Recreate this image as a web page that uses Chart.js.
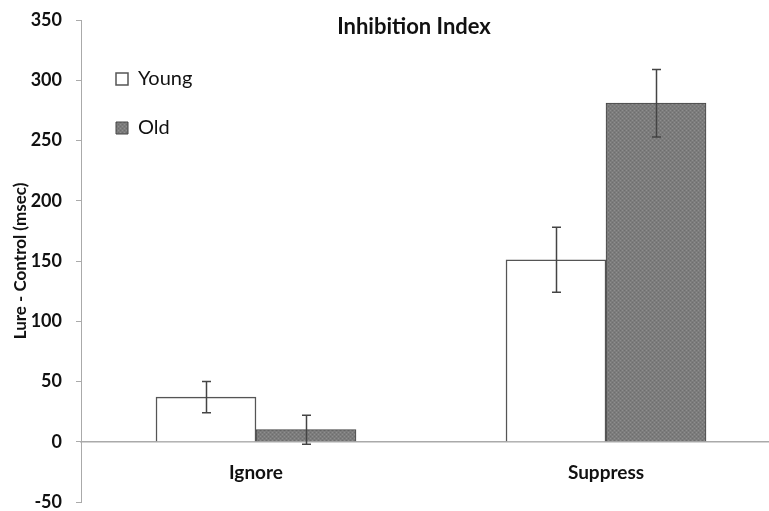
<!DOCTYPE html>
<html>
<head>
<meta charset="utf-8">
<script src="https://cdn.jsdelivr.net/npm/chart.js@4.4.0/dist/chart.umd.min.js"></script>
<style>
  html, body { margin: 0; padding: 0; background: #fff; overflow: hidden; }
  #wrap { width: 769px; height: 511px; }
</style>
</head>
<body>
<div id="wrap"><canvas id="chart" width="769" height="511"></canvas></div>
<script>
// values
const categories = ['Ignore', 'Suppress'];
const youngValues = [37, 151];
const youngErrors = [13, 27];
const oldValues = [10, 281];
const oldErrors = [12, 28];
const yTicks = [-50, 0, 50, 100, 150, 200, 250, 300, 350];

// dotted grey fill like the Excel pattern
function makePattern() {
    const c = document.createElement('canvas');
    c.width = 4;
    c.height = 4;
    const g = c.getContext('2d');
    g.fillStyle = '#7c7c7c';
    g.fillRect(0, 0, 4, 4);
    g.fillStyle = '#8e8e8e';
    g.fillRect(0, 0, 1, 1);
    g.fillRect(2, 2, 1, 1);
    g.fillStyle = '#6e6e6e';
    g.fillRect(2, 0, 1, 1);
    g.fillRect(0, 2, 1, 1);
    return g.createPattern(c, 'repeat');
}
const oldFill = makePattern();

const toPoints = (vals) => vals.map((v, i) => ({ x: i, y: v }));

const errorBars = {
    id: 'errorBars',
    afterDatasetsDraw(chart) {
        const ctx = chart.ctx;
        const yScale = chart.scales.y;
        const errs = [youngErrors, oldErrors];
        const vals = [youngValues, oldValues];
        ctx.save();
        ctx.strokeStyle = '#444444';
        ctx.lineWidth = 1.5;
        chart.data.datasets.forEach((ds, d) => {
            const meta = chart.getDatasetMeta(d);
            meta.data.forEach((bar, i) => {
                const x = Math.round(bar.x) + 0.5;
                const top = yScale.getPixelForValue(vals[d][i] + errs[d][i]);
                const bot = yScale.getPixelForValue(vals[d][i] - errs[d][i]);
                ctx.beginPath();
                ctx.moveTo(x, top);
                ctx.lineTo(x, bot);
                ctx.moveTo(x - 4.5, top);
                ctx.lineTo(x + 4.5, top);
                ctx.moveTo(x - 4.5, bot);
                ctx.lineTo(x + 4.5, bot);
                ctx.stroke();
            });
        });
        ctx.restore();
    }
};

const chartTitle = {
    id: 'chartTitle',
    afterLayout(chart) {
        // nudge the in-area legend to where Excel put it
        if (chart.legend) {
            chart.legend.left += 6;
            chart.legend.right += 6;
        }
    },
    afterDraw(chart) {
        const ctx = chart.ctx;
        ctx.save();
        ctx.font = 'bold 22px Lato';
        ctx.fillStyle = '#111';
        ctx.textAlign = 'center';
        ctx.textBaseline = 'middle';
        ctx.fillText('Inhibition Index', 414, 27);
        ctx.restore();
    }
};

new Chart(document.getElementById('chart'), {
    type: 'bar',
    data: {
        datasets: [
            {
                label: 'Young',
                data: toPoints(youngValues),
                backgroundColor: '#ffffff',
                borderColor: '#555555',
                borderWidth: 1.5,
                barThickness: 100
            },
            {
                label: 'Old',
                data: toPoints(oldValues),
                backgroundColor: oldFill,
                borderColor: '#444444',
                borderWidth: 1,
                barThickness: 100
            }
        ]
    },
    options: {
        responsive: false,
        animation: false,
        layout: { padding: { top: 20, bottom: 9, left: 0, right: 0 } },
        plugins: {
            legend: {
                position: 'chartArea',
                align: 'start',
                title: { display: true, text: '', font: { size: 14 }, padding: { top: 12, bottom: 11.2 } },
                labels: {
                    boxWidth: 12,
                    boxHeight: 12,
                    padding: 29,
                    color: '#111',
                    font: { family: 'Lato', size: 20 }
                }
            },
            tooltip: { enabled: false }
        },
        scales: {
            x: {
                type: 'linear',
                offset: false,
                position: { y: 0 },
                min: -0.5,
                max: 1.4657,
                afterBuildTicks: (scale) => {
                    scale.ticks = categories.map((c, i) => ({ value: i }));
                },
                afterFit: (scale) => { scale.height = 0; },
                ticks: {
                    callback: (v) => categories[v],
                    color: '#111',
                    padding: 20,
                    font: { family: 'Lato', size: 19, weight: 'bold' }
                },
                grid: { display: false, drawTicks: false },
                border: { display: true, color: '#aaaaaa', width: 1.5 }
            },
            y: {
                min: -50,
                max: 350,
                afterBuildTicks: (scale) => {
                    scale.ticks = yTicks.map(v => ({ value: v }));
                },
                afterFit: (scale) => {
                    scale.width = 81;
                    scale.paddingTop = 0;
                    scale.paddingBottom = 0;
                },
                ticks: {
                    color: '#111',
                    padding: 14,
                    font: { family: 'Lato', size: 18, weight: 'bold' }
                },
                grid: { drawOnChartArea: false, drawTicks: true, tickLength: 5, color: '#aaaaaa' },
                border: { display: true, color: '#aaaaaa', width: 1 },
                title: {
                    display: true,
                    text: 'Lure - Control (msec)',
                    color: '#111',
                    padding: { top: 10, bottom: 0 },
                    font: { family: 'Lato', size: 17, weight: 'bold' }
                }
            }
        }
    },
    plugins: [errorBars, chartTitle]
});
</script>
</body>
</html>
